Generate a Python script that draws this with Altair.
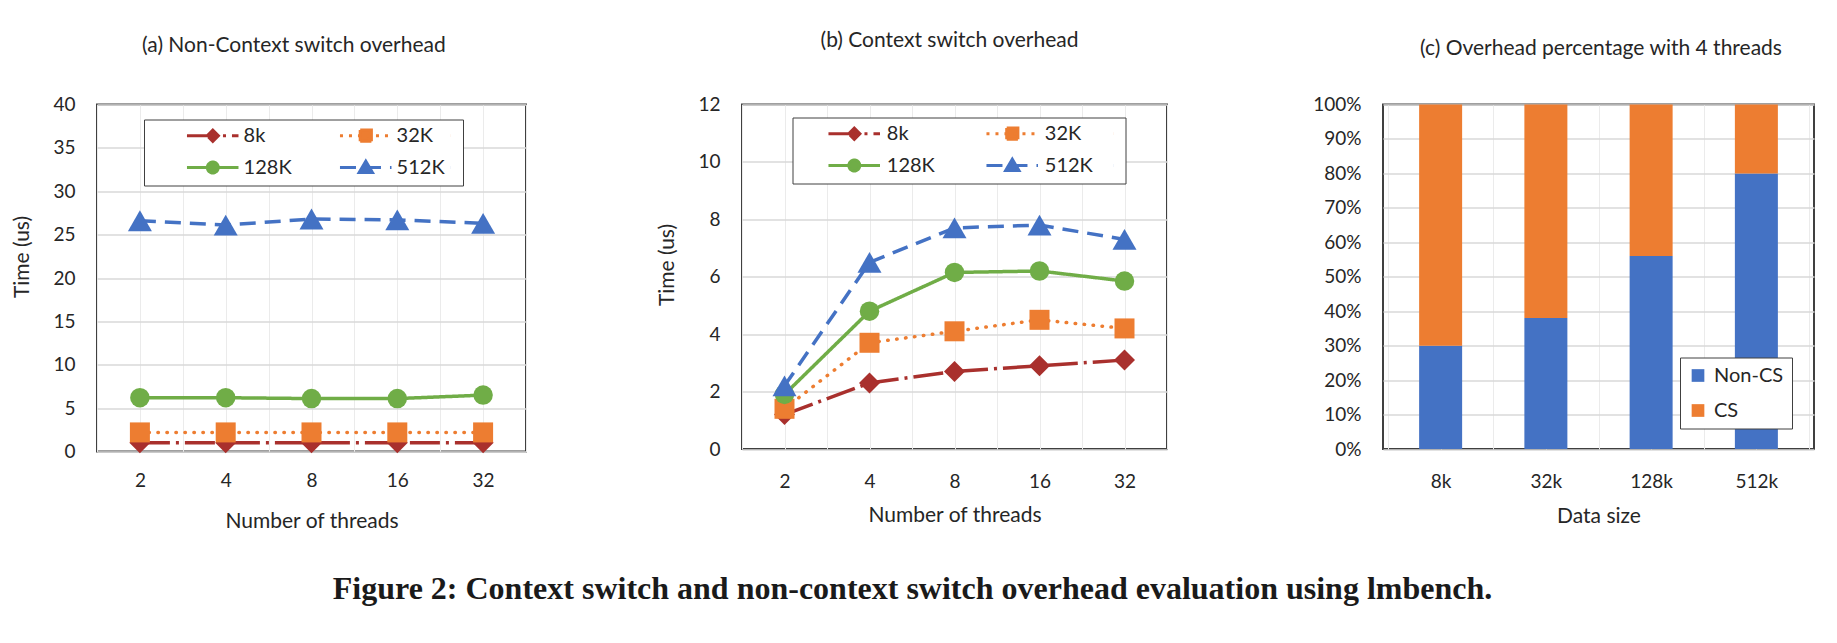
import json
import altair as alt
import pandas as pd

# ---------------- data ----------------
threads = ["2", "4", "8", "16", "32"]
series = ["8k", "32K", "128K", "512K"]

noncs_8k = [1.0, 1.0, 1.0, 1.0, 1.0]
noncs_32k = [2.2, 2.2, 2.2, 2.2, 2.2]
noncs_128k = [6.2, 6.2, 6.1, 6.1, 6.5]
noncs_512k = [26.6, 26.1, 26.8, 26.7, 26.3]

cs_8k = [1.2, 2.3, 2.7, 2.9, 3.1]
cs_32k = [1.4, 3.7, 4.1, 4.5, 4.2]
cs_128k = [1.9, 4.8, 6.15, 6.2, 5.85]
cs_512k = [2.2, 6.5, 7.7, 7.8, 7.3]

data_sizes = ["8k", "32k", "128k", "512k"]
parts = ["Non-CS", "CS"]
pct_noncs = [30, 38, 56, 80]
pct_cs = [70, 62, 44, 20]

titles = ["(a) Non-Context switch overhead", "(b) Context switch overhead",
          "(c) Overhead percentage with 4 threads"]
caption = "Figure 2: Context switch and non-context switch overhead evaluation using lmbench."

# ---------------- styles ----------------
RED, ORANGE, GREEN, BLUE = "#A9302D", "#ED7D31", "#70AD47", "#4472C4"
TEXT = "#262626"
line_colors = [RED, ORANGE, GREEN, BLUE]
line_dash = [[30, 6, 3, 6], [0.5, 8.5], [1, 0], [16, 9]]
line_cap = ["butt", "round", "butt", "butt"]
marker_shape = ["diamond", "square", "circle", "triangle-up"]
marker_size = [441, 400, 380, 576]
legend_dash = [[30, 6, 3, 6], [3, 6], [1, 0], [16, 9]]


def _square_outline(h, n):
    # outline split into short sub-paths so a dash pattern draws it solid
    step = 2 * h / n
    segs = []
    for i in range(n):
        a, b = -h + i * step, -h + (i + 1) * step
        segs.append(f"M{a:.3f},{-h}H{b:.3f}")
        segs.append(f"M{h},{a:.3f}V{b:.3f}")
        segs.append(f"M{b:.3f},{h}H{a:.3f}")
        segs.append(f"M{-h},{b:.3f}V{a:.3f}")
    return "".join(segs)


def legend_paths(hr):
    # line-with-marker glyphs (units of 7px); hr widens the second column's box
    sq = f"M-0.8,-0.8H0.8V0.8H-0.8Z" + _square_outline(0.8, 4)
    tri = ("M0,-0.9L0.95,0.72L-0.95,0.72Z"
           "M0,-0.9L0.95,0.72M0.95,0.72L-0.95,0.72M-0.95,0.72L0,-0.9")
    return [
        "M-3.69,0H3.67M-0.8,0L0,-0.8L0.8,0L0,0.8Z",
        f"M{hr},0h0.01M-3.69,0H3.67" + sq,
        "M-3.69,0H3.67M-0.78,0A0.78,0.78,0,1,0,0.78,0A0.78,0.78,0,1,0,-0.78,0Z",
        f"M{hr},0h0.01M-3.69,0H3.67" + tri,
    ]


def long_frame(cols):
    rows = []
    for s, vals in zip(series, cols):
        for i, (t, v) in enumerate(zip(threads, vals)):
            rows.append({"idx": i, "threads": t, "series": s, "value": v})
    return pd.DataFrame(rows)


df_a = long_frame([noncs_8k, noncs_32k, noncs_128k, noncs_512k])
df_b = long_frame([cs_8k, cs_32k, cs_128k, cs_512k])


def xaxis_q(labels, title, pad, title_y):
    n = len(labels)
    vals = [k / 2 for k in range(-1, 2 * n)]
    expr = ("datum.value % 1 === 0 ? " + json.dumps(labels) +
            "[datum.value] : ''")
    return alt.Axis(values=vals, labelExpr=expr, title=title, grid=True,
                    gridColor="#ebebeb", gridWidth=1, ticks=False, tickSize=0,
                    domain=False, labelPadding=pad, labelFlush=False,
                    labelOverlap=False, titleY=title_y, titleBaseline="middle")


def yaxis(vals, title, title_y, expr=None):
    kw = dict(values=vals, title=title, grid=True, gridColor="#d9d9d9",
              gridWidth=1.5, ticks=False, tickSize=0, domain=False,
              labelPadding=22, labelFlush=False, labelOverlap=False)
    if title:
        kw.update(titleX=-75, titleY=title_y, titleBaseline="middle")
    if expr:
        kw["labelExpr"] = expr
    return alt.Axis(**kw)


def line_panel(df, ymax, ystep, w, h, title, dx, offset, xpad, xtitle_y, ytitle_y, lg):
    X = alt.X("idx:Q", scale=alt.Scale(domain=[-0.5, len(threads) - 0.5], nice=False, zero=False),
              axis=xaxis_q(threads, "Number of threads", xpad, xtitle_y))
    Y = alt.Y("value:Q", scale=alt.Scale(domain=[0, ymax], nice=False, zero=True),
              axis=yaxis(list(range(0, ymax + 1, ystep)), "Time (us)", ytitle_y))
    layers = []
    for k, s in enumerate(series):
        base = alt.Chart(df).transform_filter(alt.datum.series == s)
        layers.append(base.mark_line(color=line_colors[k], strokeWidth=3.5,
                                     strokeDash=line_dash[k], strokeCap=line_cap[k])
                      .encode(x=X, y=Y))
        layers.append(base.mark_point(filled=True, opacity=1, shape=marker_shape[k],
                                      size=marker_size[k], color=line_colors[k])
                      .encode(x=X, y=Y))
    leg = alt.Legend(title=None, orient="none", legendX=lg["x"], legendY=lg["y"], columns=2,
                     direction="horizontal", symbolSize=196, symbolStrokeWidth=3,
                     symbolOffset=lg["so"], labelOffset=lg["lo"], columnPadding=lg["cp"],
                     rowPadding=7, padding=6,
                     strokeColor="#404040", fillColor="white", labelFontSize=20,
                     labelFont="Lato", labelColor=TEXT)
    dummy = alt.Chart(df).transform_filter("false").mark_point(filled=True, opacity=1, size=196).encode(
        fill=alt.Fill("series:N", scale=alt.Scale(domain=series, range=line_colors), legend=leg),
        stroke=alt.Stroke("series:N", scale=alt.Scale(domain=series, range=line_colors), legend=leg),
        shape=alt.Shape("series:N", scale=alt.Scale(domain=series, range=legend_paths(lg["hr"])), legend=leg),
        strokeDash=alt.StrokeDash("series:N", scale=alt.Scale(domain=series, range=legend_dash), legend=leg),
    )
    layers.append(dummy)
    return alt.layer(*layers).properties(
        width=w, height=h,
        title=alt.TitleParams(title, anchor="middle", dx=dx, offset=offset, baseline="bottom",
                              fontSize=21, font="Lato", fontWeight="normal", color=TEXT))


panel_a = line_panel(df_a, 40, 5, 429, 347, titles[0], -17.6, 18.9, 20, 69.5, 152,
                     {"x": 47, "y": 15, "so": 52.8, "lo": 20.8, "cp": 11, "hr": 12.1})
panel_b = line_panel(df_b, 12, 2, 425, 344.5, titles[1], -5, 24, 23, 66, 160,
                     {"x": 50.5, "y": 13, "so": 45.8, "lo": 22.5, "cp": 21, "hr": 14.4})

# ---------------- panel (c) ----------------
df_c = pd.DataFrame({
    "idx": list(range(len(data_sizes))) * 2,
    "size": data_sizes * 2,
    "part": [parts[0]] * len(data_sizes) + [parts[1]] * len(data_sizes),
    "pct": pct_noncs + pct_cs,
    "order": [0] * len(data_sizes) + [1] * len(data_sizes),
})

panel_c = alt.Chart(df_c).mark_bar(size=43).encode(
    x=alt.X("idx:Q", scale=alt.Scale(domain=[-0.5, len(data_sizes) - 0.5], nice=False, zero=False),
            axis=xaxis_q(data_sizes, "Data size", 23, 67)),
    y=alt.Y("pct:Q", stack="zero", scale=alt.Scale(domain=[0, 100], nice=False),
            axis=yaxis(list(range(0, 101, 10)), None, 0, expr="datum.value + '%'")),
    color=alt.Color("part:N", scale=alt.Scale(domain=parts, range=[BLUE, ORANGE]),
                    legend=alt.Legend(title=None, orient="none", legendX=297, legendY=253,
                                      direction="vertical", symbolType="square", symbolSize=161,
                                      symbolStrokeWidth=0, labelOffset=6, rowPadding=15, padding=8,
                                      strokeColor="#404040", fillColor="white", labelFontSize=20,
                                      labelFont="Lato", labelColor=TEXT)),
    order=alt.Order("order:Q"),
).properties(
    width=431, height=344.5,
    title=alt.TitleParams(titles[2], anchor="middle", dx=2.5, offset=15.2, baseline="bottom",
                          fontSize=21, font="Lato", fontWeight="normal", color=TEXT))

chart = alt.hconcat(panel_a, panel_b, panel_c, spacing=216, bounds="flush").resolve_scale(
    color="independent", fill="independent", stroke="independent",
    shape="independent", strokeDash="independent",
).resolve_legend(
    color="independent", fill="independent", stroke="independent",
    shape="independent", strokeDash="independent",
).properties(
    title=alt.TitleParams(caption, orient="bottom", anchor="middle", offset=42,
                          font="Liberation Serif", fontSize=32, fontWeight="bold", color="#1a1a1a"),
    padding={"left": 2, "top": 20.5, "right": 5, "bottom": 5},
    background="white",
).configure_view(stroke="#404040", strokeWidth=2).configure_axis(
    labelFont="Lato", titleFont="Lato", labelFontSize=19, titleFontSize=21,
    labelColor=TEXT, titleColor=TEXT, titleFontWeight="normal",
)

chart.save("out.html", embed_options={"renderer": "svg", "actions": False})
